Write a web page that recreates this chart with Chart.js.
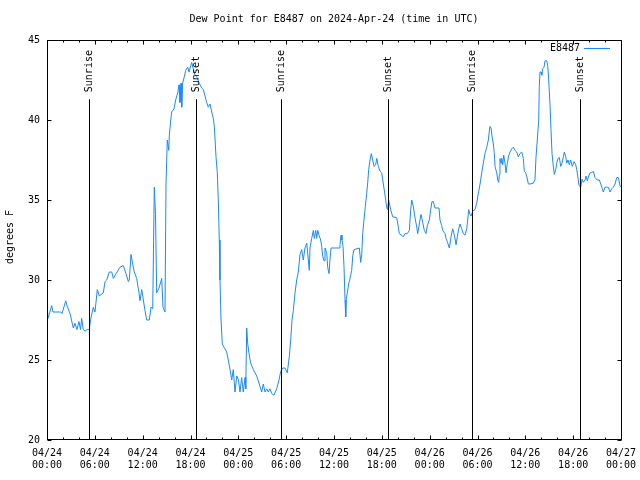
<!DOCTYPE html>
<html>
<head>
<meta charset="utf-8">
<title>Dew Point for E8487</title>
<script src="https://cdn.jsdelivr.net/npm/chart.js@4.4.1/dist/chart.umd.min.js"></script>
<style>
  body { margin: 0; background: #fff; }
  canvas { display: block; }
</style>
</head>
<body>
<canvas id="grafico-orvalho" width="640" height="480"></canvas>
<script>
// hours since 04/24 00:00 UTC
const hours = [
  0.00, 0.13, 0.59, 0.75, 1.72, 1.88, 2.35, 2.51, 2.89, 3.30, 3.51, 3.76, 4.01, 4.20, 4.35, 4.55, 4.77, 5.02, 5.31,
  5.46, 5.81, 6.02, 6.31, 6.56, 7.06, 7.28, 7.49, 7.81, 8.12, 8.32, 8.66, 9.16, 9.57, 9.91, 10.20, 10.32, 10.54,
  10.75, 10.95, 11.25, 11.54, 11.67, 11.88, 12.29, 12.51, 12.83, 13.05, 13.26, 13.46, 13.61, 13.76, 14.05, 14.39,
  14.55, 14.80, 14.93, 15.09, 15.27, 15.34, 15.52, 15.64, 15.93, 16.14, 16.40, 16.56, 16.68, 16.81, 16.90, 17.02,
  17.22, 17.40, 17.65, 17.81, 18.03, 18.15, 18.35, 18.57, 18.78, 19.10, 19.41, 19.61, 19.82, 20.03, 20.23, 20.45,
  20.66, 20.86, 20.99, 21.20, 21.36, 21.49, 21.61, 21.70, 21.83, 21.99, 22.20, 22.54, 22.74, 22.96, 23.17, 23.37,
  23.58, 23.80, 24.00, 24.21, 24.42, 24.62, 24.84, 24.93, 25.05, 25.18, 25.34, 25.55, 25.88, 26.31, 26.63, 26.93,
  27.13, 27.35, 27.56, 27.76, 27.97, 28.19, 28.47, 28.81, 29.10, 29.32, 29.57, 29.85, 30.14, 30.39, 30.57, 30.73,
  30.90, 31.11, 31.32, 31.52, 31.74, 31.95, 32.15, 32.36, 32.58, 32.78, 32.90, 32.99, 33.20, 33.41, 33.53, 33.71,
  33.83, 33.96, 34.12, 34.33, 34.46, 34.58, 34.75, 34.87, 35.09, 35.21, 35.37, 35.50, 35.63, 36.63, 36.75, 36.88,
  37.00, 37.13, 37.26, 37.38, 37.47, 37.54, 37.67, 37.85, 38.01, 38.22, 38.35, 38.51, 39.18, 39.35, 39.48, 39.60,
  39.76, 39.93, 40.10, 40.23, 40.35, 40.52, 40.68, 40.86, 41.02, 41.23, 41.36, 41.56, 41.77, 41.98, 42.19, 42.40,
  42.61, 42.71, 42.86, 43.11, 43.36, 43.87, 44.07, 44.19, 44.49, 44.69, 44.91, 45.20, 45.45, 45.62, 45.75, 45.95,
  46.16, 46.38, 46.50, 46.70, 46.91, 47.13, 47.33, 47.54, 47.71, 47.96, 48.13, 48.29, 48.46, 48.67, 49.17, 49.30,
  49.51, 49.64, 49.93, 50.05, 50.21, 50.47, 50.68, 50.89, 51.05, 51.22, 51.31, 51.47, 51.64, 51.81, 52.02, 52.22,
  52.43, 52.65, 52.77, 52.90, 53.06, 53.19, 53.40, 53.69, 53.90, 54.10, 54.32, 54.53, 54.73, 54.94, 55.16, 55.36,
  55.48, 55.57, 55.70, 55.82, 55.99, 56.11, 56.20, 56.41, 56.54, 56.66, 56.74, 56.82, 56.95, 57.04, 57.16, 57.29,
  57.45, 57.58, 57.74, 57.92, 58.08, 58.29, 58.49, 58.71, 58.92, 59.12, 59.33, 59.55, 59.75, 59.87, 60.05, 60.17,
  60.38, 60.59, 61.00, 61.21, 61.34, 61.50, 61.68, 61.75, 61.84, 61.97, 62.06, 62.18, 62.34, 62.47, 62.68, 62.81,
  62.93, 63.10, 63.22, 63.35, 63.51, 63.64, 63.81, 63.94, 64.10, 64.27, 64.44, 64.60, 64.77, 64.89, 65.07, 65.19,
  65.36, 65.52, 65.69, 65.89, 66.11, 66.32, 66.45, 66.57, 66.74, 66.95, 67.11, 67.27, 67.49, 67.61, 67.78, 67.95,
  68.11, 68.33, 68.53, 68.74, 69.03, 69.28, 69.46, 69.66, 69.78, 69.99, 70.21, 70.41, 70.62, 70.84, 71.04, 71.25,
  71.47, 71.67, 71.88, 72.00
];
// dew point, degrees F
const dewPoint = [
  28.4, 27.6, 28.4, 28.0, 28.0, 27.9, 28.7, 28.4, 27.9, 27.0, 27.3, 26.9, 27.4, 26.9, 27.6, 26.9, 26.8, 26.9, 26.9,
  27.5, 28.3, 28.0, 29.4, 29.0, 29.2, 29.9, 30.0, 30.5, 30.5, 30.1, 30.4, 30.8, 30.9, 30.4, 29.9, 30.0, 31.6,
  31.0, 30.5, 30.1, 29.2, 28.7, 29.4, 28.1, 27.5, 27.5, 28.3, 28.2, 35.8, 34.1, 29.2, 29.5, 30.1,
  28.3, 28.0, 36.0, 38.75, 38.1, 39.0, 40.0, 40.5, 40.7, 41.25, 41.7, 42.2, 41.1, 42.3, 40.8, 42.3,
  42.7, 43.1, 43.3, 43.0, 43.4, 43.6, 43.2, 42.8, 42.7, 42.3, 42.0, 41.9, 41.5, 41.1, 40.8, 41.0,
  40.5, 40.1, 39.6, 37.7, 36.7, 35.0, 32.5, 30.0, 27.5, 26.0, 25.8, 25.5, 25.0, 24.4, 23.75, 24.4,
  23.0, 24.0, 23.8, 23.0, 23.9, 23.0, 23.9, 23.2, 27.0, 26.0, 25.4, 24.8, 24.4, 24.0, 23.5, 23.0,
  23.5, 23.0, 23.2, 23.0, 23.2, 22.9, 22.8, 23.2, 23.75, 24.3, 24.5, 24.5, 24.2, 25.2, 26.25, 27.5,
  28.1, 29.2, 30.0, 30.5, 31.6, 31.9, 31.25, 32.0, 32.3, 31.25, 30.6, 32.0, 32.6, 33.1, 32.6, 33.1,
  32.6, 33.1, 32.8, 32.5, 32.1, 31.5, 31.2, 32.0, 31.7, 30.8, 30.4, 31.3, 32.0, 32.0, 32.2, 32.8,
  32.5, 32.1, 30.8, 28.75, 27.7, 28.8, 29.2, 29.8, 30.1, 30.6, 31.5, 31.9, 32.0, 31.1, 31.6, 32.9,
  33.75, 34.6, 35.4, 36.1, 36.9, 37.5, 37.9, 37.5, 37.1, 37.2, 37.6, 37.1, 36.8, 36.7, 36.0, 35.3,
  34.55, 34.4, 35.0, 34.4, 33.95, 33.9, 33.3, 32.9, 32.8, 32.7, 32.9, 32.9, 33.1, 34.4, 35.0, 34.6,
  33.9, 33.3, 32.9, 33.5, 34.1, 33.6, 33.1, 32.9, 33.4, 33.75, 34.4, 34.9, 34.9, 34.5, 34.5, 33.75,
  33.4, 33.1, 32.9, 32.6, 32.4, 32.0, 32.7, 33.2, 32.9, 32.5, 32.2, 32.7, 33.2, 33.5, 33.2, 32.9,
  32.8, 33.2, 33.75, 34.4, 34.1, 34.0, 34.3, 34.4, 34.8, 35.4, 36.0, 36.7, 37.3, 37.9, 38.3, 38.75,
  39.3, 39.6, 39.5, 39.0, 38.5, 37.9, 37.1, 36.7, 36.25, 36.1, 36.6, 37.6, 37.3, 37.6, 37.2, 37.8,
  37.3, 36.7, 37.3, 37.8, 38.0, 38.2, 38.3, 38.1, 38.0, 37.7, 37.9, 38.0, 37.6, 36.8, 36.7, 36.5,
  36.0, 36.0, 36.05, 36.3, 37.7, 38.75, 40.0, 42.1, 43.0, 43.0, 42.8, 43.2, 43.3, 43.7, 43.7, 43.4,
  42.5, 40.9, 39.4, 37.9, 37.1, 36.6, 36.9, 37.3, 37.6, 37.65, 37.1, 37.3, 37.7, 38.0, 37.7, 37.3,
  37.5, 37.2, 37.5, 37.1, 37.4, 37.2, 36.9, 36.5, 35.9, 35.8, 36.3, 36.1, 36.25, 36.5, 36.2, 36.5,
  36.7, 36.7, 36.8, 36.4, 36.25, 36.25, 36.0, 35.7, 35.5, 35.8, 35.8, 35.8, 35.5, 35.7, 35.8, 36.0,
  36.4, 36.4, 35.9, 35.8
];

const sunriseHours = [5.31, 29.35, 53.31];
const sunsetHours = [18.73, 42.81, 66.90];
const markerTop = 41.3;

const xTickHours = [0, 6, 12, 18, 24, 30, 36, 42, 48, 54, 60, 66, 72];
const xTickDates = ['04/24', '04/24', '04/24', '04/24', '04/25', '04/25', '04/25', '04/25', '04/26', '04/26', '04/26', '04/26', '04/27'];
const xTickTimes = ['00:00', '06:00', '12:00', '18:00', '00:00', '06:00', '12:00', '18:00', '00:00', '06:00', '12:00', '18:00', '00:00'];
const yTicks = [20, 25, 30, 35, 40, 45];

const seriesName = 'E8487';
const titulo = 'Dew Point for E8487 on 2024-Apr-24 (time in UTC)';
const eixoY = 'degrees F';
const corLinha = '#1a88ff';
const fonte = '10px "DejaVu Sans Mono", "Liberation Mono", monospace';

let pontos = hours.map(function (h, i) { return { x: h, y: dewPoint[i] }; });

// gnuplot-ish frame, inward ticks, sun markers, title and key
const molduraGnuplot = {
    id: 'molduraGnuplot',
    afterDatasetsDraw: function (chart) {
        let ctx = chart.ctx;
        let area = chart.chartArea;
        let sx = chart.scales.x;
        let sy = chart.scales.y;
        ctx.save();
        ctx.strokeStyle = '#000';
        ctx.fillStyle = '#000';
        ctx.lineWidth = 1;
        ctx.font = fonte;

        // sunrise / sunset lines
        let marcas = [];
        sunriseHours.forEach(function (h) { marcas.push([h, 'Sunrise']); });
        sunsetHours.forEach(function (h) { marcas.push([h, 'Sunset']); });
        marcas.forEach(function (m) {
            let px = Math.round(sx.getPixelForValue(m[0])) + 0.5;
            let topo = sy.getPixelForValue(markerTop);
            ctx.beginPath();
            ctx.moveTo(px, sy.getPixelForValue(20));
            ctx.lineTo(px, topo);
            ctx.stroke();
            ctx.save();
            ctx.translate(px, topo - 7);
            ctx.rotate(-Math.PI / 2);
            ctx.textAlign = 'left';
            ctx.textBaseline = 'middle';
            ctx.fillText(m[1], 0, 0);
            ctx.restore();
        });

        // border
        let l = Math.round(area.left) + 0.5;
        let r = Math.round(area.right) + 0.5;
        let t = Math.round(area.top) + 0.5;
        let b = Math.round(area.bottom) - 0.5;
        ctx.strokeRect(l, t, r - l, b - t);

        // x ticks, major every 6 h, minor every 2 h
        ctx.beginPath();
        for (let h = 0; h <= 72; h += 2) {
            let px = Math.round(sx.getPixelForValue(h)) + 0.5;
            let len = (h % 6 === 0) ? 4 : 2;
            ctx.moveTo(px, b); ctx.lineTo(px, b - len);
            ctx.moveTo(px, t); ctx.lineTo(px, t + len);
        }
        yTicks.forEach(function (v) {
            let py = Math.round(sy.getPixelForValue(v)) + 0.5;
            ctx.moveTo(l, py); ctx.lineTo(l + 4, py);
            ctx.moveTo(r, py); ctx.lineTo(r - 4, py);
        });
        ctx.stroke();

        // title
        ctx.textAlign = 'center';
        ctx.textBaseline = 'middle';
        ctx.fillText(titulo, (area.left + area.right) / 2, 19);

        // y axis label
        ctx.save();
        ctx.translate(10, 237);
        ctx.rotate(-Math.PI / 2);
        ctx.fillText(eixoY, 0, 0);
        ctx.restore();

        // key
        ctx.textAlign = 'right';
        ctx.fillText(seriesName, 580, 48);
        ctx.strokeStyle = corLinha;
        ctx.beginPath();
        ctx.moveTo(584, 48.5);
        ctx.lineTo(610, 48.5);
        ctx.stroke();
        ctx.restore();
    }
};

let context = document.getElementById('grafico-orvalho').getContext('2d');

let grafico = new Chart(context, {
    type: 'line',
    data: {
        datasets: [{
            label: seriesName,
            data: pontos,
            borderColor: corLinha,
            borderWidth: 1,
            pointRadius: 0,
            tension: 0,
            fill: false
        }]
    },
    options: {
        responsive: false,
        animation: false,
        devicePixelRatio: 1,
        layout: { padding: { top: 40, right: 19, left: 0, bottom: 0 } },
        plugins: {
            legend: { display: false },
            title: { display: false },
            tooltip: { enabled: false }
        },
        scales: {
            x: {
                type: 'linear',
                min: 0,
                max: 72,
                grid: { display: false, drawTicks: false },
                border: { display: false },
                afterBuildTicks: function (scale) {
                    scale.ticks = xTickHours.map(function (v) { return { value: v }; });
                },
                afterFit: function (scale) {
                    scale.height = 40;
                    scale.paddingLeft = 0;
                    scale.paddingRight = 0;
                },
                ticks: {
                    autoSkip: false,
                    maxRotation: 0,
                    minRotation: 0,
                    padding: 7,
                    color: '#000',
                    font: { family: '"DejaVu Sans Mono", monospace', size: 10, lineHeight: 1.25 },
                    callback: function (value) {
                        let i = xTickHours.indexOf(value);
                        return i < 0 ? '' : [xTickDates[i], xTickTimes[i]];
                    }
                }
            },
            y: {
                min: 20,
                max: 45,
                grid: { display: false, drawTicks: false },
                border: { display: false },
                afterBuildTicks: function (scale) {
                    scale.ticks = yTicks.map(function (v) { return { value: v }; });
                },
                afterFit: function (scale) {
                    scale.width = 47;
                    scale.paddingTop = 0;
                    scale.paddingBottom = 0;
                },
                ticks: {
                    padding: 7,
                    color: '#000',
                    font: { family: '"DejaVu Sans Mono", monospace', size: 10 }
                }
            }
        }
    },
    plugins: [molduraGnuplot]
});
</script>
</body>
</html>
